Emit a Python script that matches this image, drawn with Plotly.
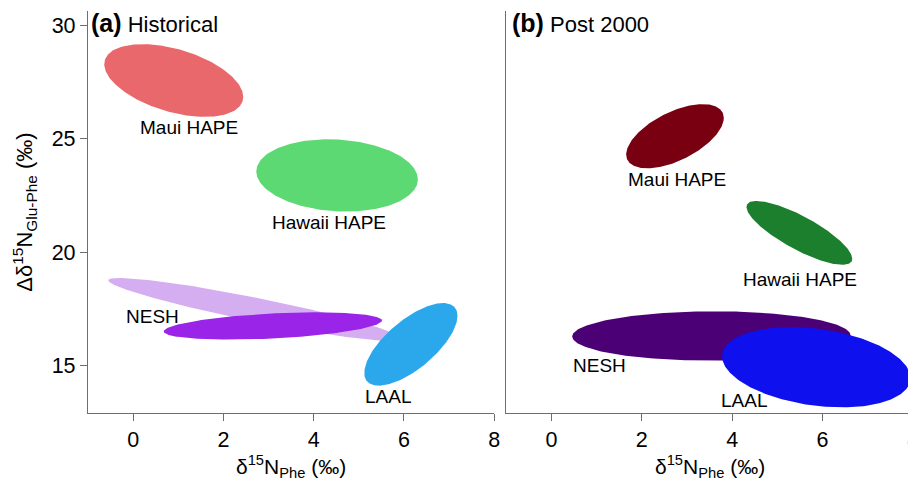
import numpy as np
import plotly.graph_objects as go

# ---------------- data (standard ellipses: centre, SDs, correlation) ----------------
hist_groups = ["NESH", "NESH", "Maui HAPE", "Hawaii HAPE", "LAAL"]
hist_cx = [2.69, 3.095, 0.90, 4.52, 6.155]
hist_cy = [17.49, 16.76, 27.56, 23.385, 15.95]
hist_sx = [3.24, 2.418, 1.54, 1.79, 1.033]
hist_sy = [1.385, 0.60, 1.60, 1.59, 1.818]
hist_rho = [-0.924, 0.40, -0.45, -0.11, 0.69]
hist_colors = ["#D4AEF1", "#9A25E8", "#E8686C", "#5DD973", "#2AA8EB"]

post_groups = ["Maui HAPE", "Hawaii HAPE", "NESH", "LAAL"]
post_cx = [2.734, 5.486, 3.54, 5.86]
post_cy = [25.11, 20.857, 16.32, 14.945]
post_sx = [1.08, 1.17, 3.08, 2.084]
post_sy = [1.413, 1.407, 1.085, 1.767]
post_rho = [0.57, -0.81, 0.02, -0.27]
post_colors = ["#780010", "#1B7F2E", "#4B0075", "#0F10EE"]

# label positions (data units)
hist_labels = ["Maui HAPE", "Hawaii HAPE", "NESH", "LAAL"]
hist_lab_x = [1.24, 4.34, 0.42, 5.65]
hist_lab_y = [25.49, 21.30, 17.18, 13.66]
post_labels = ["Maui HAPE", "Hawaii HAPE", "NESH", "LAAL"]
post_lab_x = [2.78, 5.49, 1.07, 4.26]
post_lab_y = [23.19, 18.79, 15.01, 13.47]

x_ticks = [0, 2, 4, 6, 8]
y_ticks = [15, 20, 25, 30]
x_range = [-1, 8]
y_range = [12.93, 30.62]

FONT = "Liberation Sans, Arial, sans-serif"

fig = go.Figure()
t = np.linspace(0, 2 * np.pi, 240)


def add_ellipses(cx, cy, sx, sy, rho, colors, groups, xa, ya):
    for i in range(len(cx)):
        x = cx[i] + sx[i] * np.cos(t)
        y = cy[i] + sy[i] * (rho[i] * np.cos(t) + np.sqrt(1 - rho[i] ** 2) * np.sin(t))
        fig.add_trace(go.Scatter(
            x=x, y=y, mode="lines", fill="toself", fillcolor=colors[i],
            line=dict(width=0, color=colors[i]), name=groups[i],
            hoverinfo="name", xaxis=xa, yaxis=ya, showlegend=False))


add_ellipses(hist_cx, hist_cy, hist_sx, hist_sy, hist_rho, hist_colors, hist_groups, "x", "y")
add_ellipses(post_cx, post_cy, post_sx, post_sy, post_rho, post_colors, post_groups, "x2", "y2")

annotations = []
for txt, x, y in zip(hist_labels, hist_lab_x, hist_lab_y):
    annotations.append(dict(text=txt, x=x, y=y, xref="x", yref="y", showarrow=False,
                            font=dict(size=19, color="black", family=FONT)))
for txt, x, y in zip(post_labels, post_lab_x, post_lab_y):
    annotations.append(dict(text=txt, x=x, y=y, xref="x2", yref="y2", showarrow=False,
                            font=dict(size=19, color="black", family=FONT)))

# panel titles
annotations.append(dict(text="<span style='font-size:25px'><b>(a)</b></span> Historical",
                        x=-1, y=30.62, xref="x", yref="y",
                        xanchor="left", yanchor="top", xshift=1, yshift=4, showarrow=False,
                        font=dict(size=22, color="black", family=FONT)))
annotations.append(dict(text="<span style='font-size:25px'><b>(b)</b></span> Post 2000",
                        x=-1, y=30.62, xref="x2", yref="y2",
                        xanchor="left", yanchor="top", xshift=4, yshift=4, showarrow=False,
                        font=dict(size=22, color="black", family=FONT)))

# axis titles
xtitle = "δ<sup>15</sup>N<sub>Phe</sub> (‰)"
annotations.append(dict(text=xtitle, x=3.5, y=-0.132, xref="x", yref="paper",
                        xanchor="center", yanchor="middle", showarrow=False,
                        font=dict(size=21, color="black", family=FONT)))
annotations.append(dict(text=xtitle, x=3.5, y=-0.132, xref="x2", yref="paper",
                        xanchor="center", yanchor="middle", showarrow=False,
                        font=dict(size=21, color="black", family=FONT)))
annotations.append(dict(text="Δδ<sup>15</sup>N<sub>Glu-Phe</sub> (‰)", x=-0.078, y=0.5,
                        xref="paper", yref="paper", textangle=-90,
                        xanchor="center", yanchor="middle", showarrow=False,
                        font=dict(size=22, color="black", family=FONT)))

axis_common = dict(showline=True, linecolor="#6E6E6E", linewidth=1.3, showgrid=False,
                   zeroline=False, ticks="outside", tickcolor="#6E6E6E", ticklen=7,
                   tickwidth=1.3, tickfont=dict(size=21.5, color="black", family=FONT),
                   mirror=False, automargin=False, ticklabeloverflow="allow")

# the page body adds an 8px offset, so the figure is 908x472 placed at (8, 8)
fig.update_layout(
    width=908, height=472,
    margin=dict(l=80, r=3.3, t=3, b=67, autoexpand=False),
    paper_bgcolor="white", plot_bgcolor="white",
    font=dict(family=FONT, color="black"),
    xaxis=dict(domain=[0, 0.4923], range=x_range, tickvals=x_ticks, anchor="y", **axis_common),
    yaxis=dict(domain=[0, 1], range=y_range, tickvals=y_ticks, anchor="x", **axis_common),
    xaxis2=dict(domain=[0.5069, 1], range=x_range, tickvals=x_ticks, anchor="y2", **axis_common),
    yaxis2=dict(domain=[0, 1], range=y_range, tickvals=y_ticks, anchor="x2",
                **{**axis_common, "ticks": "", "showticklabels": False}),
    annotations=annotations,
    showlegend=False,
)

fig.write_html("out.html")
